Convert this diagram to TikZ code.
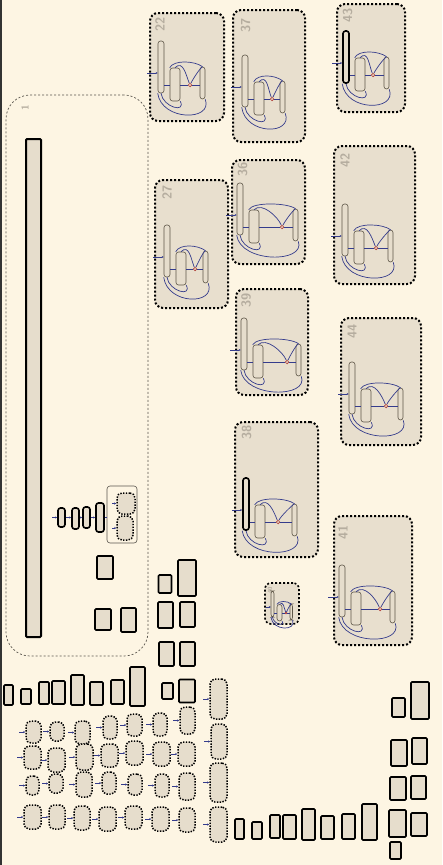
\documentclass[tikz,border=0pt]{standalone}
\usetikzlibrary{arrows.meta}

\definecolor{diagfond}{HTML}{FDF5E3}
\definecolor{diagcase}{HTML}{E6DDCC}
\definecolor{diagpanneau}{HTML}{E8DFCE}
\definecolor{diagbord}{HTML}{5E5648}
\definecolor{diaglien}{HTML}{353C8C}
\definecolor{diagnum}{HTML}{B5AD9F}
\definecolor{diagpoint}{HTML}{B0403A}
\definecolor{diaggris}{HTML}{5A564E}

\tikzset{
  sz/.style 2 args={minimum width=#1pt, minimum height=#2pt},
  etatcase/.style={draw=black, line width=1.6pt, fill=diagcase, inner sep=0pt, rounded corners=1pt},
  etatpoint/.style={draw=black, line width=1.5pt, dash pattern=on 1.4pt off 1.4pt,
                    fill=diagcase, inner sep=0pt, rounded corners=5pt},
  panneau/.style={draw=black, line width=2pt, dash pattern=on 2pt off 2pt,
                  fill=diagpanneau, inner sep=0pt, rounded corners=8pt},
  lien/.style={draw=diaglien, line width=0.7pt},
  entree/.style={lien, -{Stealth[length=2pt,width=2pt]}},
  numero/.style={text=diagnum, font=\sffamily\bfseries\fontsize{13}{13}\selectfont,
                 rotate=90, inner sep=0pt},
  barre/.style={draw=diagbord, line width=0.6pt, fill=diagcase, inner sep=0pt, rounded corners=2.5pt},
  noeudrond/.style={circle, draw=diagpoint, line width=0.7pt, fill=diagcase,
                    inner sep=0pt, minimum size=3.5pt},
  pics/machine/.style n args={3}{code={
    \node[barre, sz={6}{52}, #3] (-haut) at (3,-26) {};
    \node[barre, sz={10}{33}] (-milieu) at (17,-8.5) {};
    \node[barre, sz={5}{32}] (-cote) at (#2+2.5,-10) {};
    \node[noeudrond] (-pivot) at (#1,-8) {};
    \coordinate (-entree) at (-11,-20);
    \draw[entree] (-entree) -- (-haut.west |- -entree);
    \draw[lien] (-haut.east |- -pivot) -- (-milieu.west |- -pivot);
    \draw[lien] (-milieu.east |- -pivot) -- (-pivot) -- (-cote.west |- -pivot);
    \draw[lien] (-milieu.north) .. controls +(8,-8) and +(-4,-10) .. (-pivot);
    \draw[lien] (-milieu.north west) .. controls +(4,-8) and +(-8,-6) .. (-cote.north);
    \draw[lien] (-cote.north) .. controls +(-3,2) and +(3,-6) .. (-pivot);
    \draw[lien] (-haut.south) .. controls +(2,14) and +(6,12) .. (-milieu.south east);
    \draw[lien] (-haut.south west) .. controls +(4,28) and +(8,22) .. (-cote.south east);
  }},
}

\begin{document}
\begin{tikzpicture}[x=1pt, y=-1pt]
\fill[diagfond] (0,0) rectangle (442,865);
\useasboundingbox (0,0) rectangle (442,865);
\draw[line width=1.5pt, black!80] (0.75,0) -- (0.75,865);

% etat 1 et son contenu
\node[draw=diaggris, line width=0.7pt, dash pattern=on 2pt off 2pt, rounded corners=24pt,
      inner sep=0pt, sz={142}{561}] (conteneur) at (77,375.5) {};
\node[text=diagnum, font=\sffamily\bfseries\fontsize{10}{10}\selectfont, rotate=90] (num1) at (25,108) {1};
\node[etatcase, line width=2pt, sz={15}{498}] (racine) at (33.5,388) {};

\node[etatcase, rounded corners=2.5pt, sz={7}{19}] (ch1) at (61.5,517.5) {};
\node[etatcase, rounded corners=2.5pt, sz={7}{21}] (ch2) at (75.5,518.5) {};
\node[etatcase, rounded corners=2.5pt, sz={7}{21}] (ch3) at (86.5,517.5) {};
\node[etatcase, rounded corners=2.5pt, sz={8}{29}] (ch4) at (100,517.5) {};
\coordinate (ch-in) at (52,517.5);
\draw[entree] (ch-in) -- (ch1.west);
\draw[entree] (ch1.east) -- (ch2.west |- ch1.east);
\draw[entree] (ch2.east |- ch3.west) -- (ch3.west);
\draw[entree] (ch3.east) -- (ch4.west |- ch3.east);

\node[draw=diaggris, line width=0.6pt, rounded corners=3pt, inner sep=0pt, sz={30}{57}] (groupe) at (122,514.5) {};
\draw[lien] (ch4.east) -- (groupe.west |- ch4.east);
\node[etatpoint, sz={18}{21}] (dA) at (126,503.5) {};
\node[etatpoint, sz={16}{24}] (dB) at (125,528) {};
\coordinate (dA-in) at (112,503.5);
\coordinate (dB-in) at (112,528);
\draw[entree] (dA-in) -- (dA.west);
\draw[entree] (dB-in) -- (dB.west);

\node[etatcase, sz={16}{23}] (s1) at (105,567.5) {};
\node[etatcase, sz={16}{21}] (s2) at (103,619.5) {};
\node[etatcase, sz={15}{24}] (s3) at (128.5,620) {};

% panneaux des machines
\node[panneau, sz={74}{108}] (p22) at (187,67) {};
\node[panneau, sz={72}{132}] (p37) at (269,76) {};
\node[panneau, sz={68}{108}] (p43) at (371,58) {};
\node[panneau, sz={73}{128}] (p27) at (191.5,244) {};
\node[panneau, sz={73}{104}] (p36) at (268.5,212) {};
\node[panneau, sz={81}{138}] (p42) at (374.5,215) {};
\node[panneau, sz={72}{106}] (p39) at (272,342) {};
\node[panneau, sz={80}{127}] (p44) at (381,381.5) {};
\node[panneau, sz={83}{135}] (p38) at (276.5,489.5) {};
\node[panneau, sz={78}{129}] (p41) at (373,580.5) {};
\node[panneau, line width=1.6pt, rounded corners=6pt, sz={34}{41}] (p40) at (282,603.5) {};

\node[numero] (n22) at (160,24) {22};
\node[numero] (n37) at (245.5,25) {37};
\node[numero] (n43) at (347.5,15) {43};
\node[numero] (n27) at (167,192) {27};
\node[numero] (n36) at (242.5,169.5) {36};
\node[numero] (n42) at (345,160) {42};
\node[numero] (n39) at (246,300) {39};
\node[numero] (n44) at (352,331) {44};
\node[numero] (n38) at (246.5,432.5) {38};
\node[numero] (n41) at (343,532) {41};
\node[numero, font=\sffamily\bfseries\fontsize{6}{6}\selectfont] (n40) at (270,590) {40};

\pic (m22) at (158,93) {machine={32}{42}{}};
\pic (m37) at (242,107) {machine={30}{38}{}};
\pic (m43) at (343,83) {machine={30}{41}{draw=black, line width=1.6pt}};
\pic (m27) at (164,277) {machine={31}{39}{}};
\pic (m36) at (237,235) {machine={45}{56}{}};
\pic (m42) at (342,256) {machine={34}{46}{}};
\pic (m39) at (241,370) {machine={46}{55}{}};
\pic (m44) at (349,414) {machine={37}{49}{}};
\pic (m38) at (243,530) {machine={35}{49}{draw=black, line width=1.6pt}};
\pic (m41) at (339,617) {machine={41}{51}{}};
\pic[scale=0.5, transform shape] (m40) at (271,617) {machine={30}{38}{}};

% colonne de cases pleines
\foreach \n/\x/\y/\w/\h in {c1/165/584/13/18, c2/187/578/18/36, c3/165.5/615/15/26,
    c4/187.5/614.5/15/25, c5/166.5/654/15/24, c6/187.5/654/15/24, c7/167.5/691/11/16,
    c8/187/691/16/23, r1/8.5/695/9/20, r2/26/696.5/10/15, r3/44/693/10/22,
    r4/58.5/692.5/13/23, r5/77.5/690/13/30, r6/96.5/693.5/13/23, r7/117.5/692/13/24,
    r8/137.5/686.5/15/39, b1/239.5/829/9/20, b2/257/830.5/10/17, b3/275/826.5/10/23,
    b4/289.5/827/13/24, b5/308.5/824.5/13/31, b6/327.5/827.5/13/23, b7/348.5/826.5/13/25,
    b8/369.5/822/15/36, b9/397.5/823.5/17/27, b10/395.5/850.5/11/17, b11/419/824.5/16/23,
    b12/398/788.5/16/23, b13/418.5/787.5/15/23, b14/399/753/16/26, b15/419.5/751/15/26,
    b16/398.5/707.5/13/19, b17/420/700.5/18/37}
  \node[etatcase, sz={\w}{\h}] (\n) at (\x,\y) {};

% grille de cases pointillees
\foreach \n/\x/\y/\w/\h in {g11/33.5/732/15/22, g12/57/731.5/14/19, g13/82.5/732.5/15/23,
    g14/110/727.5/14/23, g15/134.5/725/15/22, g16/160/724.5/14/23, g17/187.5/720.5/15/27,
    g21/32.5/757.5/17/23, g22/56.5/760/17/24, g23/84.5/757/17/26, g24/109.5/755.5/17/23,
    g25/134.5/753/17/24, g26/161.5/754/17/24, g27/186.5/754/17/24,
    g31/32.5/785.5/13/19, g32/56/783.5/14/19, g33/84/784.5/16/25, g34/109/783/14/22,
    g35/135/784.5/14/21, g36/162/785.5/14/23, g37/187/786.5/16/27,
    g41/32.5/817/17/24, g42/57/817/16/24, g43/82/818/16/24, g44/107.5/819/17/24,
    g45/133.5/817.5/17/23, g46/160.5/819/17/24, g47/187/820/16/24,
    gr1/218.5/699/17/40, gr2/219/741.5/16/35, gr3/218.5/782.5/17/39, gr4/218.5/824.5/17/35}
{
  \node[etatpoint, sz={\w}{\h}] (\n) at (\x,\y) {};
  \coordinate (\n-in) at ([xshift=-6pt]\n.west);
  \draw[entree] (\n-in) -- (\n.west);
}
\end{tikzpicture}
\end{document}
